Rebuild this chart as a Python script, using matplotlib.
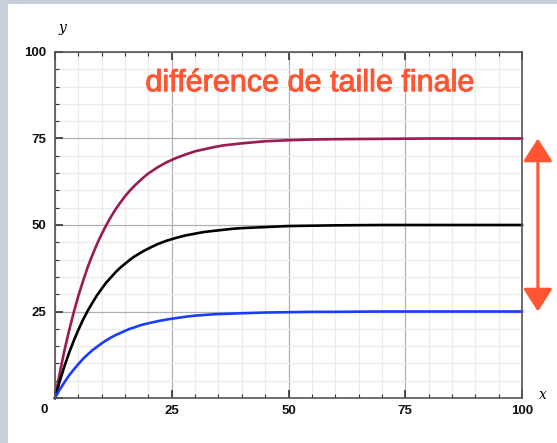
import matplotlib
matplotlib.use("Agg")
import matplotlib.pyplot as plt
import matplotlib.patheffects as pe
from matplotlib.patches import Rectangle, FancyArrowPatch

# values
xs = [0, 1, 2, 3, 4, 5, 6, 7, 8, 9, 10, 11, 12, 13, 14, 15, 16, 17, 18, 19, 20,
      22, 24, 26, 28, 30, 32, 34, 36, 38, 40, 45, 50, 55, 60, 70, 80, 90, 100]
purple = [0, 7.1, 13.6, 19.4, 24.7, 29.5, 33.8, 37.8, 41.3, 44.5, 47.4,
          50.0, 52.4, 54.6, 56.5, 58.3, 59.9, 61.3, 62.6, 63.8, 64.9,
          66.7, 68.2, 69.4, 70.4, 71.3, 71.9, 72.5, 73.0, 73.3, 73.6,
          74.2, 74.5, 74.7, 74.8, 74.9, 75.0, 75.0, 75.0]
black = [0, 4.8, 9.1, 13.0, 16.5, 19.7, 22.6, 25.2, 27.5, 29.7, 31.6,
         33.4, 34.9, 36.4, 37.7, 38.8, 39.9, 40.9, 41.7, 42.5, 43.2,
         44.5, 45.5, 46.3, 47.0, 47.5, 48.0, 48.3, 48.6, 48.9, 49.1,
         49.4, 49.7, 49.8, 49.9, 50.0, 50.0, 50.0, 50.0]
blue = [0, 2.4, 4.5, 6.5, 8.2, 9.8, 11.3, 12.6, 13.8, 14.8, 15.8,
        16.7, 17.5, 18.2, 18.8, 19.4, 20.0, 20.4, 20.9, 21.3, 21.6,
        22.2, 22.7, 23.1, 23.5, 23.8, 24.0, 24.2, 24.3, 24.4, 24.5,
        24.7, 24.8, 24.9, 24.9, 25.0, 25.0, 25.0, 25.0]
major_ticks = [0, 25, 50, 75, 100]
arrow_span = (25, 75)
title = "différence de taille finale"

W, H = 557, 443
fig = plt.figure(figsize=(W / 100, H / 100), dpi=100)
fig.patch.set_facecolor("#c7cfdb")
fig.patches.append(Rectangle((8 / W, 0), 1, (H - 4) / H, transform=fig.transFigure,
                             facecolor="white", edgecolor="none", zorder=-10))

ax = fig.add_axes([55 / W, (H - 398) / H, (522 - 55) / W, (398 - 52) / H])
ax.set_zorder(1)
ax.set_xlim(0, 100)
ax.set_ylim(0, 100)

ax.set_xticks(major_ticks)
ax.set_yticks(major_ticks)
ax.set_xticks(range(0, 101, 5), minor=True)
ax.set_yticks(range(0, 101, 5), minor=True)
ax.grid(which="minor", color="#ebebeb", linewidth=0.9)
ax.grid(which="major", color="#b0b0b0", linewidth=0.9)
ax.set_axisbelow(True)
ax.tick_params(which="both", direction="in", top=True, right=False, colors="#333333")
ax.tick_params(which="major", length=6, width=1.2, labelsize=9.5, labelcolor="#111111")
ax.tick_params(which="minor", length=3, width=0.8)
ax.tick_params(axis="x", pad=5)
ax.tick_params(axis="y", pad=6)
# the 0 label is shared, drawn once in the corner
ax.set_xticklabels([""] + [str(t) for t in major_ticks[1:]],
                   fontweight="bold", family="Liberation Sans")
ax.set_yticklabels([""] + [str(t) for t in major_ticks[1:]],
                   fontweight="bold", family="Liberation Sans")
ax.text(-1.6, -1.6, "0", ha="right", va="top", fontsize=9.5, fontweight="bold",
        family="Liberation Sans", color="#111111", clip_on=False)
for s in ax.spines.values():
    s.set_color("#555555")
    s.set_linewidth(1.2)

ax.plot(xs, purple, color="#9b1a52", linewidth=1.9, clip_on=False)
ax.plot(xs, black, color="black", linewidth=1.9, clip_on=False)
ax.plot(xs, blue, color="#1a3cff", linewidth=1.9, clip_on=False)

ax.text(1.5, 107, "y", fontsize=10, style="italic", family="DejaVu Serif",
        ha="center", va="center")
ax.text(104.5, 1, "x", fontsize=10, style="italic", family="DejaVu Serif",
        ha="center", va="center")

ax.text(54.4, 91, title, color="#ff5533", fontsize=22, family="Liberation Sans",
        ha="center", va="center",
        path_effects=[pe.withStroke(linewidth=0.7, foreground="#ff5533")])

arrow = FancyArrowPatch((103.4, arrow_span[0]), (103.4, arrow_span[1]),
                        arrowstyle="<|-|>,head_length=0.7,head_width=0.45",
                        mutation_scale=20, color="#ff5533", linewidth=2.2,
                        shrinkA=0, shrinkB=0, clip_on=False)
ax.add_patch(arrow)

fig.savefig("out.png", dpi=100)
